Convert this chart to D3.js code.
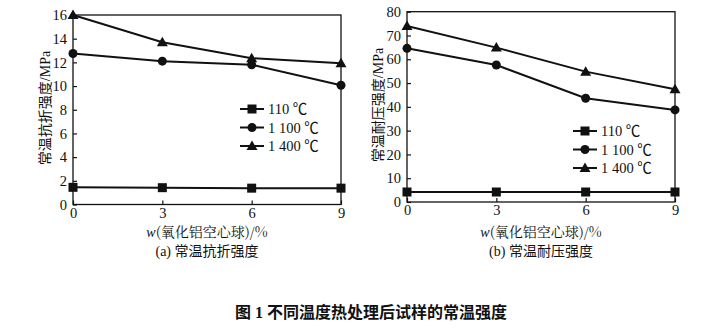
<!DOCTYPE html>
<html><head><meta charset="utf-8">
<script src="https://cdn.jsdelivr.net/npm/d3@7"></script>
<style>
body{margin:0;background:#fff;}
text{font-family:"Liberation Serif","Times New Roman","Noto Sans CJK SC",serif;fill:#111;}
</style></head>
<body><svg id="c" width="718" height="331"></svg>
<script>
const xValues = [0, 3, 6, 9];
const seriesNames = ["110 ℃", "1 100 ℃", "1 400 ℃"];
const markers = ["square", "circle", "triangle"];
// (a) 常温抗折强度 / MPa
const flexural110 = [1.45, 1.42, 1.38, 1.38];
const flexural1100 = [12.75, 12.1, 11.8, 10.07];
const flexural1400 = [16.0, 13.7, 12.35, 11.92];
// (b) 常温耐压强度 / MPa
const compress110 = [4.2, 4.2, 4.2, 4.2];
const compress1100 = [64.6, 57.6, 43.6, 38.7];
const compress1400 = [74.0, 64.9, 54.8, 47.4];
const yTicksA = [0, 2, 4, 6, 8, 10, 12, 14, 16];
const yTicksB = [0, 10, 20, 30, 40, 50, 60, 70, 80];
const xTicks = [0, 3, 6, 9];

const svg = d3.select("#c");

function panel(o) {
  const g = svg.append("g");
  const x = d3.scaleLinear().domain([0, 9]).range([o.x0, o.x1]);
  const y = d3.scaleLinear().domain(o.yDomain).range([o.y0, o.y1]);
  // frame
  g.append("rect").attr("x", o.x0).attr("y", o.y1).attr("width", o.x1 - o.x0).attr("height", o.y0 - o.y1)
    .attr("fill", "none").attr("stroke", "#111").attr("stroke-width", 1.3);
  // y axis
  const ya = g.append("g").attr("transform", `translate(${o.x0},0)`)
    .call(d3.axisLeft(y).tickValues(o.yTicks).tickSize(-4).tickPadding(6).tickFormat(d3.format("d")));
  ya.select(".domain").remove();
  ya.selectAll("line").attr("stroke", "#111").attr("stroke-width", 1.2);
  ya.selectAll("text").attr("font-size", 14.5).attr("font-family", "Liberation Serif");
  // x axis
  const xa = g.append("g").attr("transform", `translate(0,${o.y0})`)
    .call(d3.axisBottom(x).tickValues(xTicks).tickSize(-4).tickPadding(3).tickFormat(d3.format("d")));
  xa.select(".domain").remove();
  xa.selectAll("line").attr("stroke", "#111").attr("stroke-width", 1.2);
  xa.selectAll("text").attr("font-size", 14.5).attr("font-family", "Liberation Serif");
  // series
  const line = d3.line().x((d, i) => x(xValues[i])).y(d => y(d));
  o.series.forEach((s, k) => {
    g.append("path").datum(s).attr("d", line).attr("fill", "none").attr("stroke", "#111").attr("stroke-width", 2);
    s.forEach((v, i) => drawMarker(g, markers[k], x(xValues[i]), y(v)));
  });
  // legend
  seriesNames.forEach((n, k) => {
    const ly = o.legY + k * 18.5;
    g.append("line").attr("x1", o.legX).attr("x2", o.legX + 24).attr("y1", ly).attr("y2", ly)
      .attr("stroke", "#111").attr("stroke-width", 2);
    drawMarker(g, markers[k], o.legX + 12, ly);
    g.append("text").attr("x", o.legX + 28).attr("y", ly + 5).attr("font-size", 14.5).text(n);
  });
  // y title
  g.append("text").attr("transform", `translate(${o.ytX},${o.ytY}) rotate(-90)`)
    .attr("text-anchor", "middle").attr("font-size", 14)
    .attr("font-family", "'Noto Serif CJK SC','Noto Sans CJK SC',serif")
    .text(o.yTitle);
  // x title
  const xt = g.append("text").attr("x", (o.x0 + o.x1) / 2).attr("y", 237).attr("text-anchor", "middle").attr("font-size", 14);
  xt.append("tspan").attr("font-style", "italic").attr("font-family", "Liberation Serif").text("w");
  xt.append("tspan").attr("font-family", "'Noto Serif CJK SC','Noto Sans CJK SC',serif").text("(氧化铝空心球)/%");
  // caption
  g.append("text").attr("x", (o.x0 + o.x1) / 2).attr("y", 256).attr("text-anchor", "middle").attr("font-size", 14)
    .attr("font-family", "'Noto Serif CJK SC','Noto Sans CJK SC',serif").text(o.caption);
}

function drawMarker(g, type, cx, cy) {
  if (type === "square") {
    g.append("rect").attr("x", cx - 4.5).attr("y", cy - 4.5).attr("width", 9).attr("height", 9).attr("fill", "#111");
  } else if (type === "circle") {
    g.append("circle").attr("cx", cx).attr("cy", cy).attr("r", 4.5).attr("fill", "#111");
  } else {
    g.append("path").attr("d", `M${cx},${cy - 5.5}L${cx + 5.5},${cy + 4}L${cx - 5.5},${cy + 4}Z`).attr("fill", "#111");
  }
}

panel({x0: 73, x1: 341, y0: 204.5, y1: 15, yDomain: [0, 16], yTicks: yTicksA,
  series: [flexural110, flexural1100, flexural1400], legX: 240, legY: 109,
  ytX: 50, ytY: 108, yTitle: "常温抗折强度/MPa", caption: "(a) 常温抗折强度"});
panel({x0: 407, x1: 675, y0: 202, y1: 11.7, yDomain: [0, 80], yTicks: yTicksB,
  series: [compress110, compress1100, compress1400], legX: 573, legY: 131,
  ytX: 383, ytY: 105, yTitle: "常温耐压强度/MPa", caption: "(b) 常温耐压强度"});

svg.append("text").attr("x", 371).attr("y", 318).attr("text-anchor", "middle").attr("font-size", 16)
  .attr("font-weight", "bold").attr("font-family", "'Noto Sans CJK SC',sans-serif")
  .text("图 1 不同温度热处理后试样的常温强度");
</script></body></html>
